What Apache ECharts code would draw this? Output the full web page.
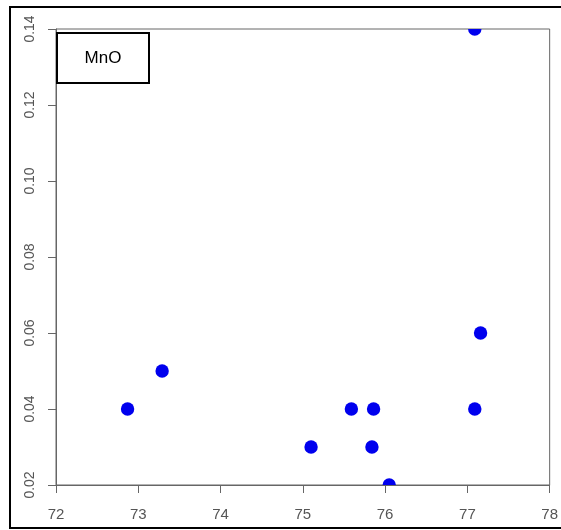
<!DOCTYPE html>
<html>
<head>
<meta charset="utf-8">
<script src="https://cdn.jsdelivr.net/npm/echarts@6/dist/echarts.min.js"></script>
<style>
  html, body { margin: 0; padding: 0; background: #fff; }
  #chart { width: 561px; height: 530px; }
</style>
</head>
<body>
<div id="chart"></div>
<script>
// SiO2-style x values and MnO contents
const xValues = [72.87, 73.29, 75.10, 75.59, 75.86, 75.84, 76.05, 77.09, 77.09, 77.16];
const mnoValues = [0.04, 0.05, 0.03, 0.04, 0.04, 0.03, 0.02, 0.04, 0.14, 0.06];
const xTicks = [72, 73, 74, 75, 76, 77, 78];
const yTicks = [0.02, 0.04, 0.06, 0.08, 0.10, 0.12, 0.14];
const panelLabel = 'MnO';

const points = xValues.map((x, i) => [x, mnoValues[i]]);
const labelColor = '#555';
const axisColor = '#666';
const dotRadius = 6.7;

const chart = echarts.init(document.getElementById('chart'));
chart.setOption({
  backgroundColor: '#fff',
  animation: false,
  grid: {
    left: 56, right: 9, top: 29, bottom: 45,
    show: true, borderColor: axisColor, borderWidth: 1, backgroundColor: 'transparent'
  },
  xAxis: {
    type: 'value',
    min: xTicks[0], max: xTicks[xTicks.length - 1], interval: 1,
    axisLine: { show: true, lineStyle: { color: axisColor, width: 1 } },
    axisTick: { show: true, inside: false, length: 8, lineStyle: { color: axisColor } },
    axisLabel: {
      color: labelColor, fontSize: 15, fontFamily: 'Liberation Sans, Arial, sans-serif',
      margin: 22, showMaxLabel: true, showMinLabel: true
    },
    splitLine: { show: false }
  },
  yAxis: {
    type: 'value',
    min: yTicks[0], max: yTicks[yTicks.length - 1], interval: 0.02,
    axisLine: { show: true, lineStyle: { color: axisColor, width: 1 } },
    axisTick: { show: true, inside: false, length: 8, lineStyle: { color: axisColor } },
    axisLabel: {
      color: labelColor, fontSize: 14, fontFamily: 'Liberation Sans, Arial, sans-serif',
      rotate: 90, margin: 19,
      formatter: v => v.toFixed(2)
    },
    splitLine: { show: false }
  },
  series: [{
    // filled dots, clipped to the plotting region
    type: 'custom',
    clip: true,
    data: points,
    renderItem: (params, api) => {
      const p = api.coord([api.value(0), api.value(1)]);
      return {
        type: 'circle',
        shape: { cx: p[0], cy: p[1], r: dotRadius },
        style: { fill: '#0000ee' }
      };
    },
    encode: { x: 0, y: 1 }
  }],
  graphic: [
    {
      type: 'rect', z: 100,
      shape: { x: 10, y: 7, width: 570, height: 521 },
      style: { fill: 'none', stroke: '#000', lineWidth: 2 }
    },
    {
      type: 'rect', z: 100,
      shape: { x: 57, y: 33, width: 92, height: 50 },
      style: { fill: '#fff', stroke: '#000', lineWidth: 2 }
    },
    {
      type: 'text', z: 101,
      x: 103, y: 58,
      style: {
        text: panelLabel, fill: '#000',
        font: '17px "Liberation Sans", Arial, sans-serif',
        align: 'center', verticalAlign: 'middle'
      }
    }
  ]
});
</script>
</body>
</html>
